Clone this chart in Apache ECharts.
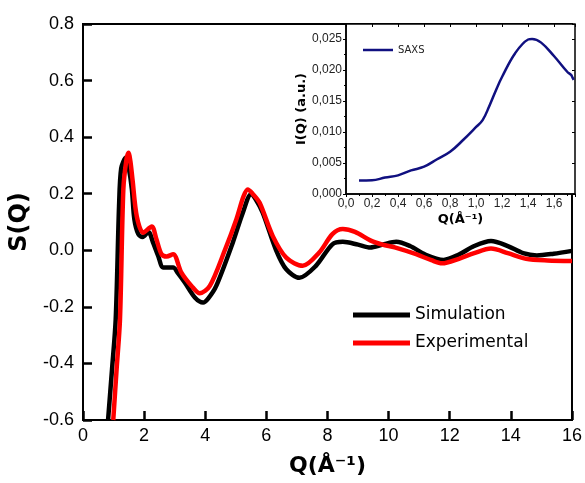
<!DOCTYPE html>
<html>
<head>
<meta charset="utf-8">
<script src="https://cdn.jsdelivr.net/npm/echarts@6/dist/echarts.min.js"></script>
<style>html,body{margin:0;padding:0;background:#fff}#c{width:585px;height:483px}</style>
</head>
<body>
<div id="c"></div>
<script>
// Simulation S(Q)
const simQ = [0.82,0.95,1.07,1.18,1.25,1.40,1.5,1.6,1.68,1.81,1.95,2.14,2.3,2.46,2.63,2.95,3.1,3.33,3.66,3.93,4.1,4.36,4.9,5.23,5.5,5.65,5.88,6.32,6.65,7.08,7.62,8.16,8.5,9.0,9.4,9.8,10.25,10.7,11.2,11.8,12.3,12.8,13.35,13.9,14.4,14.85,15.4,16.0];
const simS = [-0.6,-0.42,-0.244,0.157,0.29,0.327,0.29,0.215,0.11,0.057,0.047,0.065,0.025,-0.02,-0.061,-0.061,-0.08,-0.114,-0.167,-0.185,-0.17,-0.126,0.027,0.133,0.198,0.18,0.133,0.0,-0.067,-0.097,-0.055,0.021,0.03,0.02,0.01,0.02,0.03,0.015,-0.015,-0.034,-0.015,0.015,0.033,0.015,-0.01,-0.018,-0.012,-0.002];
// Experimental S(Q)
const expQ = [0.99,1.1,1.21,1.32,1.42,1.49,1.55,1.62,1.76,1.97,2.25,2.4,2.57,2.74,2.95,3.22,3.55,3.82,4.15,4.64,5.02,5.25,5.39,5.55,5.78,6.21,6.65,7.19,7.73,8.16,8.5,8.9,9.4,9.8,10.2,10.9,11.4,11.75,12.3,12.8,13.35,13.9,14.5,15.2,16.0];
const expS = [-0.6,-0.42,-0.244,0.215,0.32,0.345,0.315,0.25,0.12,0.062,0.084,0.04,-0.014,-0.022,-0.014,-0.079,-0.126,-0.152,-0.126,0.0,0.11,0.19,0.215,0.2,0.168,0.05,-0.026,-0.055,-0.008,0.057,0.075,0.065,0.035,0.02,0.01,-0.014,-0.035,-0.046,-0.03,-0.01,0.006,-0.01,-0.03,-0.036,-0.038];
// SAXS inset
const saxsQ = [0.1,0.2,0.3,0.4,0.5,0.6,0.7,0.8,0.9,1.0,1.05,1.1,1.16,1.2,1.3,1.4,1.43,1.5,1.6,1.7,1.73,1.74,1.75];
const saxsI = [0.00217,0.0022,0.00265,0.003,0.0038,0.0044,0.0056,0.0068,0.0087,0.0108,0.0119,0.0141,0.0171,0.0189,0.0227,0.0249,0.0250,0.0244,0.0222,0.0197,0.0192,0.0188,0.0184];

const zip = (a, b) => a.map((v, i) => [v, b[i]]);

const chart = echarts.init(document.getElementById('c'), null, {renderer: 'canvas'});
const black = '#000';
const mainFont = 'Liberation Sans';
chart.setOption({
  animation: false,
  backgroundColor: '#fff',
  grid: [
    {left: 83, right: 10, top: 24, bottom: 63, show: true, borderColor: black, borderWidth: 2},
    {left: 346, right: 10, top: 24, bottom: 289, show: true, borderColor: black, borderWidth: 1.5, backgroundColor: '#fff'}
  ],
  legend: [
    {data: ['Simulation', 'Experimental'], left: 353, top: 305, orient: 'vertical', icon: 'rect',
     itemWidth: 57, itemHeight: 5, itemGap: 8, padding: 0,
     textStyle: {fontFamily: 'DejaVu Sans', fontSize: 17, color: '#000', lineHeight: 20}},
    {data: ['SAXS'], left: 363, top: 45, orient: 'vertical', icon: 'rect',
     itemWidth: 30, itemHeight: 2.5, padding: 0,
     textStyle: {fontFamily: 'DejaVu Sans', fontSize: 10, color: '#222'}}
  ],
  xAxis: [
    {gridIndex: 0, type: 'value', min: 0, max: 16, interval: 2,
     name: 'Q(Å⁻¹)', nameLocation: 'middle', nameGap: 35,
     nameTextStyle: {fontFamily: 'DejaVu Sans', fontWeight: 'bold', fontSize: 22, color: '#000'},
     axisLine: {show: true, onZero: false, lineStyle: {color: black, width: 2}},
     axisTick: {show: true, inside: true, length: 9, lineStyle: {color: '#000', width: 2.5}},
     axisLabel: {margin: 7, fontFamily: mainFont, fontSize: 18, color: '#000'},
     splitLine: {show: false}},
    {gridIndex: 1, type: 'value', min: 0, max: 1.76, interval: 0.2,
     name: 'Q(Å⁻¹)', nameLocation: 'middle', nameGap: 19,
     nameTextStyle: {fontFamily: 'DejaVu Sans', fontWeight: 'bold', fontSize: 13, color: '#000'},
     axisLine: {show: true, onZero: false, lineStyle: {color: black, width: 1.5}},
     axisTick: {show: true, inside: false, length: 3, lineStyle: {color: black, width: 1}},
     minorTick: {show: true, splitNumber: 2, length: 2, lineStyle: {color: black}},
     axisLabel: {margin: 4, fontFamily: mainFont, fontSize: 12, color: '#222', showMaxLabel: false,
       formatter: v => v.toFixed(1).replace('.', ',')},
     splitLine: {show: false}},
    {gridIndex: 1, type: 'value', min: 0, max: 1.76, interval: 0.2, position: 'top',
     axisLine: {show: false, onZero: false}, axisTick: {show: true, inside: true, length: 3, lineStyle: {color: black}},
     axisLabel: {show: false}, splitLine: {show: false}}
  ],
  yAxis: [
    {gridIndex: 0, type: 'value', min: -0.6, max: 0.8, interval: 0.2,
     name: 'S(Q)', nameLocation: 'middle', nameGap: 44, nameRotate: 90,
     nameTextStyle: {fontFamily: 'DejaVu Sans', fontWeight: 'bold', fontSize: 24, color: '#000'},
     axisLine: {show: true, onZero: false, lineStyle: {color: black, width: 2}},
     axisTick: {show: true, inside: true, length: 9, lineStyle: {color: '#000', width: 2.5}},
     axisLabel: {margin: 9, fontFamily: mainFont, fontSize: 18, color: '#000',
       formatter: v => (Math.round(v * 10) / 10).toFixed(1)},
     splitLine: {show: false}},
    {gridIndex: 1, type: 'value', min: 0, max: 0.0274, interval: 0.005,
     name: 'I(Q) (a.u.)', nameLocation: 'middle', nameGap: 37, nameRotate: 90,
     nameTextStyle: {fontFamily: 'DejaVu Sans', fontWeight: 'bold', fontSize: 13, color: '#000'},
     axisLine: {show: true, onZero: false, lineStyle: {color: black, width: 1.5}},
     axisTick: {show: true, inside: false, length: 3, lineStyle: {color: black, width: 1}},
     minorTick: {show: true, splitNumber: 2, length: 2, lineStyle: {color: black}},
     axisLabel: {margin: 4, fontFamily: mainFont, fontSize: 12, color: '#222', showMaxLabel: false,
       formatter: v => v.toFixed(3).replace('.', ',')},
     splitLine: {show: false}},
    {gridIndex: 1, type: 'value', min: 0, max: 0.0274, interval: 0.005, position: 'right',
     axisLine: {show: false, onZero: false}, axisTick: {show: true, inside: true, length: 3, lineStyle: {color: black}},
     axisLabel: {show: false}, splitLine: {show: false}}
  ],
  series: [
    {name: 'Simulation', type: 'line', xAxisIndex: 0, yAxisIndex: 0, data: zip(simQ, simS),
     smooth: 0.3, showSymbol: false, lineStyle: {color: '#000', width: 4.5}, itemStyle: {color: '#000'}},
    {name: 'Experimental', type: 'line', xAxisIndex: 0, yAxisIndex: 0, data: zip(expQ, expS),
     smooth: 0.3, showSymbol: false, lineStyle: {color: '#ff0000', width: 4.5}, itemStyle: {color: '#ff0000'}},
    {name: 'SAXS', type: 'line', xAxisIndex: 1, yAxisIndex: 1, data: zip(saxsQ, saxsI),
     smooth: 0.4, showSymbol: false, lineStyle: {color: '#101080', width: 2.5}, itemStyle: {color: '#101080'}}
  ]
});
</script>
</body>
</html>
